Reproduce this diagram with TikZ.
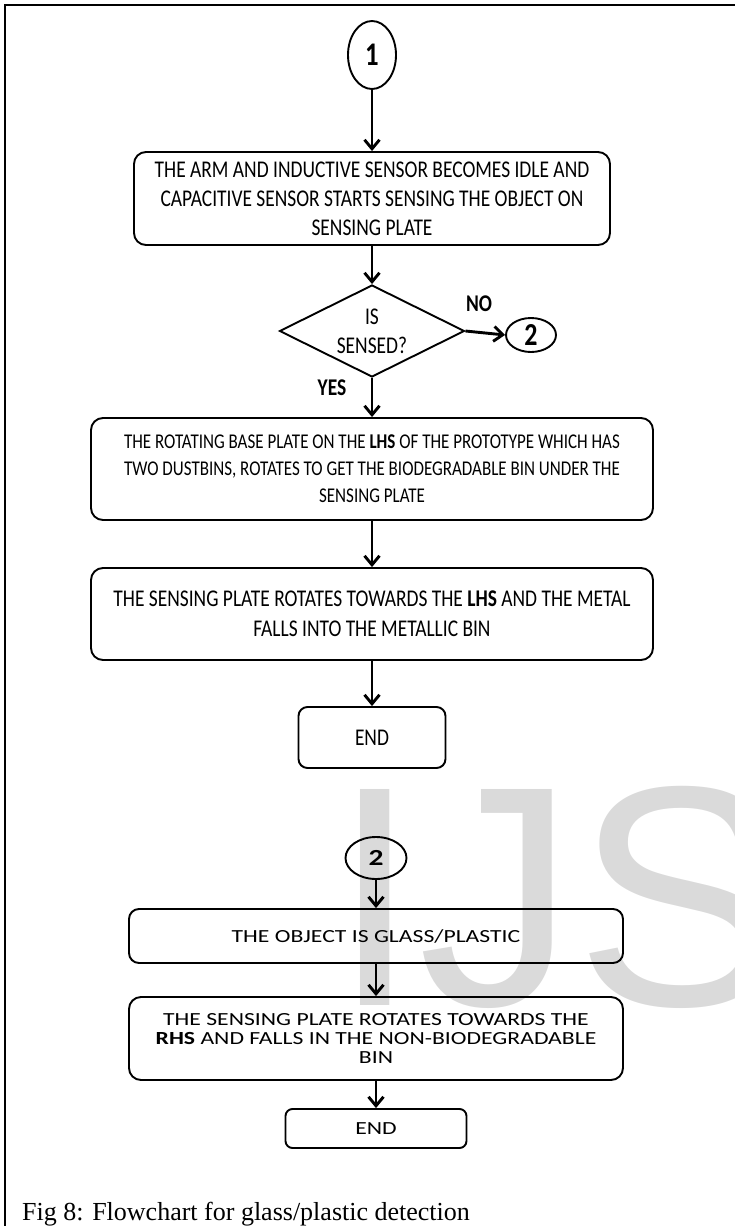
\documentclass[tikz,border=0pt]{standalone}
\usepackage{fontspec}
\usetikzlibrary{shapes.geometric,arrows.meta}
\setmainfont{Liberation Serif}
\newfontfamily\fa[FakeStretch=0.81]{Carlito}
\newfontfamily\fb[FakeStretch=1.28]{Carlito}
\newfontfamily\wmfont{Liberation Sans}
\definecolor{wmgray}{RGB}{218,218,218}
\begin{document}
\begin{tikzpicture}[x=1pt,y=-1pt,
  box/.style={draw, rounded corners=12pt, line width=1.9pt, align=center, inner sep=0pt},
  oval/.style={draw, ellipse, line width=1.9pt, inner sep=0pt},
  arr/.style={-{Straight Barb[length=9pt,width=15pt]}, line width=2.9pt},
  lo/.style={font=\fb\fontsize{18.5}{19}\selectfont}]
\useasboundingbox (0,0) rectangle (735,1226);
\begin{scope}
\clip (0,0) rectangle (735,1226);
\node[anchor=base west, text=wmgray, inner sep=0pt, font=\wmfont\fontsize{314}{314}\selectfont] (wm) at (331,1005) {IJS};
\end{scope}
\draw[line width=1.6pt] (5,1226) -- (5,5) -- (735,5);
% upper chart
\node[oval, minimum width=48pt, minimum height=68pt, font=\fa\bfseries\fontsize{33}{33}\selectfont] (c1) at (372,55) {1};
\node[box, minimum width=476pt, minimum height=93pt, font=\fa\fontsize{24}{29}\selectfont] (b1) at (372,198.5)
  {THE ARM AND INDUCTIVE SENSOR BECOMES IDLE AND\\CAPACITIVE SENSOR STARTS SENSING THE OBJECT ON\\SENSING PLATE};
\node[draw, diamond, aspect=2, line width=1.9pt, inner sep=0pt, minimum width=185pt, minimum height=92pt, align=center, font=\fa\fontsize{24}{29}\selectfont] (d) at (372,331) {IS\\SENSED?};
\node[oval, minimum width=50pt, minimum height=34pt, font=\fa\bfseries\fontsize{32}{32}\selectfont] (c2a) at (531,335) {2};
\node[font=\fa\bfseries\fontsize{24}{24}\selectfont, inner sep=0pt] (no) at (479,304) {NO};
\node[font=\fa\bfseries\fontsize{24}{24}\selectfont, inner sep=0pt] (yes) at (332,388) {YES};
\node[box, minimum width=562pt, minimum height=102pt, font=\fa\fontsize{21}{27}\selectfont] (b2) at (372,469)
  {THE ROTATING BASE PLATE ON THE \textbf{LHS} OF THE PROTOTYPE WHICH HAS\\TWO DUSTBINS, ROTATES TO GET THE BIODEGRADABLE BIN UNDER THE\\SENSING PLATE};
\node[box, minimum width=562pt, minimum height=92pt, font=\fa\fontsize{24}{30}\selectfont] (b3) at (372,614)
  {THE SENSING PLATE ROTATES TOWARDS THE \textbf{LHS} AND THE METAL\\FALLS INTO THE METALLIC BIN};
\node[box, rounded corners=9pt, minimum width=147pt, minimum height=61pt, font=\fa\fontsize{24}{24}\selectfont] (e1) at (372,737.5) {END};
\draw[arr] (c1.south) -- (b1.north);
\draw[arr] (b1.south) -- (d.north);
\draw[arr] (d.east) -- (c2a.west);
\draw[arr] (d.south) -- (b2.north);
\draw[arr] (b2.south) -- (b3.north);
\draw[arr] (b3.south) -- (e1.north);
% lower chart
\node[oval, minimum width=61pt, minimum height=42pt, font=\fb\bfseries\fontsize{23}{23}\selectfont] (c2b) at (376,858) {2};
\node[box, rounded corners=10pt, minimum width=494pt, minimum height=54pt, lo] (b4) at (376,936) {THE OBJECT IS GLASS/PLASTIC};
\node[box, rounded corners=12pt, minimum width=494pt, minimum height=83pt, lo] (b5) at (376,1038.5)
  {THE SENSING PLATE ROTATES TOWARDS THE\\\textbf{RHS} AND FALLS IN THE NON-BIODEGRADABLE\\BIN};
\node[box, rounded corners=7pt, minimum width=181pt, minimum height=39pt, lo] (e2) at (376,1128.5) {END};
\draw[arr] (c2b.south) -- (b4.north);
\draw[arr] (b4.south) -- (b5.north);
\draw[arr] (b5.south) -- (e2.north);
% caption
\node[anchor=base west, inner sep=0pt, font=\fontsize{26}{26}\selectfont] (cap) at (22,1220) {Fig 8: Flowchart for glass/plastic detection};
\end{tikzpicture}
\end{document}
